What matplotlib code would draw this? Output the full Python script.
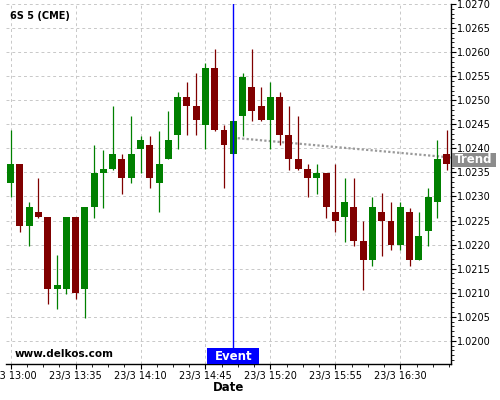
import matplotlib
matplotlib.use("Agg")
import matplotlib.pyplot as plt
from matplotlib.ticker import MultipleLocator, FixedLocator, FixedFormatter
from matplotlib.patches import Rectangle
import numpy as np

# ---- data ----
tick_labels = ["23/3 13:00", "23/3 13:35", "23/3 14:10", "23/3 14:45",
               "23/3 15:20", "23/3 15:55", "23/3 16:30"]
opens = [1.02328, 1.02367, 1.02239, 1.02267, 1.02257, 1.02108, 1.02108, 1.02257,
         1.02108, 1.02278, 1.02349, 1.02357, 1.02378, 1.02339, 1.02399, 1.02407,
         1.02328, 1.02378, 1.02428, 1.02507, 1.02488, 1.02449, 1.02567, 1.02438,
         1.02389, 1.02467, 1.02528, 1.02488, 1.02458, 1.02507, 1.02428, 1.02378,
         1.02357, 1.02339, 1.02349, 1.02267, 1.02258, 1.02278, 1.02207, 1.02168,
         1.02267, 1.02249, 1.02199, 1.02267, 1.02168, 1.02228, 1.02289, 1.02388]
highs = [1.02438, 1.02367, 1.02288, 1.02338, 1.02257, 1.02178, 1.02257, 1.02257,
         1.02278, 1.02406, 1.02397, 1.02488, 1.02388, 1.02467, 1.02426, 1.02426,
         1.02437, 1.02477, 1.02517, 1.02538, 1.02556, 1.02577, 1.02606, 1.02448,
         1.02457, 1.02556, 1.02606, 1.02527, 1.02538, 1.02517, 1.02488, 1.02467,
         1.02367, 1.02367, 1.02349, 1.02367, 1.02338, 1.02338, 1.02249, 1.02298,
         1.02307, 1.02288, 1.02288, 1.02277, 1.02267, 1.02317, 1.02417, 1.02438]
lows = [1.02298, 1.02227, 1.02198, 1.02256, 1.02077, 1.02067, 1.02098, 1.02087,
        1.02048, 1.02256, 1.02277, 1.02355, 1.02306, 1.02327, 1.02349, 1.02317,
        1.02267, 1.02377, 1.02398, 1.02427, 1.02427, 1.02398, 1.02437, 1.02317,
        1.02389, 1.02426, 1.02456, 1.02456, 1.02398, 1.02406, 1.02356, 1.02356,
        1.02298, 1.02306, 1.02256, 1.02227, 1.02206, 1.02197, 1.02106, 1.02156,
        1.02177, 1.02188, 1.02188, 1.02156, 1.02167, 1.02198, 1.02256, 1.02356]
closes = [1.02367, 1.02239, 1.02278, 1.02258, 1.02108, 1.02117, 1.02257, 1.02099,
          1.02278, 1.02349, 1.02357, 1.02388, 1.02339, 1.02388, 1.02417, 1.02339,
          1.02367, 1.02417, 1.02507, 1.02489, 1.02458, 1.02567, 1.02439, 1.02408,
          1.02457, 1.02549, 1.02478, 1.02458, 1.02507, 1.02428, 1.02378, 1.02358,
          1.02339, 1.02349, 1.02278, 1.02249, 1.02288, 1.02208, 1.02168, 1.02278,
          1.02249, 1.02199, 1.02278, 1.02168, 1.02217, 1.02299, 1.02378, 1.02368]
trend_x = [24, 47.5]
trend_y = [1.02422, 1.02381]
event_index = 24
event_label = "Event"
trend_label = "Trend"
title = "6S 5 (CME)"
watermark = "www.delkos.com"

# ---- figure ----
fig = plt.figure(figsize=(5, 4), dpi=100)
ax = fig.add_axes([0.012, 0.089, 0.8906, 0.901])

n = len(opens)
x = np.arange(n)
o = np.array(opens); h = np.array(highs); l = np.array(lows); c = np.array(closes)
up = c >= o
cols = np.where(up, "#008000", "#800000")

ax.plot(trend_x, trend_y, color="#999999", lw=1.6, ls=(0, (1, 1)), zorder=2,
        clip_on=True)

ax.vlines(x, l, h, colors=cols, lw=0.9, zorder=3)
bottoms = np.minimum(o, c)
heights = np.maximum(np.abs(c - o), 0.000012)
ax.bar(x, heights, bottom=bottoms, width=0.75, color=cols, linewidth=0, zorder=4)

ax.axvline(event_index, color="#0000ff", lw=1.0, zorder=5)

ax.set_xlim(-0.5, 47.5)
ax.set_ylim(1.01951, 1.0270)

# axes styling
ax.spines["top"].set_visible(False)
ax.spines["left"].set_visible(False)
ax.spines["right"].set_visible(True)
ax.spines["bottom"].set_linewidth(1.0)
ax.spines["right"].set_linewidth(1.0)

ax.yaxis.tick_right()
ax.yaxis.set_major_locator(MultipleLocator(0.0005))
ax.yaxis.set_minor_locator(MultipleLocator(0.0001))
ax.yaxis.set_major_formatter(matplotlib.ticker.FormatStrFormatter("%.4f"))
major_x = list(range(0, 43, 7))
ax.xaxis.set_major_locator(FixedLocator(major_x))
ax.xaxis.set_major_formatter(FixedFormatter(tick_labels))
ax.xaxis.set_minor_locator(MultipleLocator(1.75))

ax.tick_params(axis="both", which="major", labelsize=7, length=3.5, width=0.8,
               direction="out")
ax.tick_params(axis="both", which="minor", length=2, width=0.6)
ax.tick_params(axis="x", which="major", pad=1)
ax.tick_params(axis="y", which="major", pad=0.5)

ax.grid(True, which="major", color="#c8c8c8", ls=(0, (3, 3)), lw=0.7, zorder=0)
ax.set_axisbelow(True)

ax.set_xlabel("Date", fontsize=8.5, fontweight="bold", labelpad=0)

# event label: box in display pixels anchored at the event line
fig.canvas.draw()
ex, ey = ax.transData.transform((event_index, ax.get_ylim()[0]))
box_w, box_h = 52, 16
rect = Rectangle((ex - box_w / 2, ey), box_w, box_h, transform=None,
                 facecolor="#0000ff", edgecolor="none", zorder=6)
fig.patches.append(rect)
fig.text((ex) / fig.bbox.width, (ey + box_h / 2 - 0.5) / fig.bbox.height, event_label,
         color="white", fontsize=8.5, fontweight="bold", ha="center", va="center",
         zorder=7)

# trend label on right axis
tx, ty = ax.transData.transform((trend_x[1], trend_y[1]))
tw, th = 44, 14
rect2 = Rectangle((tx + 1, ty - th / 2 - 2.3), tw, th, transform=None,
                  facecolor="#8c8c8c", edgecolor="none", zorder=6)
fig.patches.append(rect2)
fig.text((tx + 4) / fig.bbox.width, (ty - 2.3) / fig.bbox.height, trend_label,
         color="white", fontsize=8.5, fontweight="bold", ha="left", va="center",
         zorder=7)

fig.text(10 / 500, 1 - 16 / 400, title, fontsize=7, fontweight="bold",
         ha="left", va="center")
fig.text(15 / 500, 1 - 354 / 400, watermark, fontsize=7.5, fontweight="bold",
         ha="left", va="center")

fig.savefig("out.png", dpi=100, facecolor="white")
